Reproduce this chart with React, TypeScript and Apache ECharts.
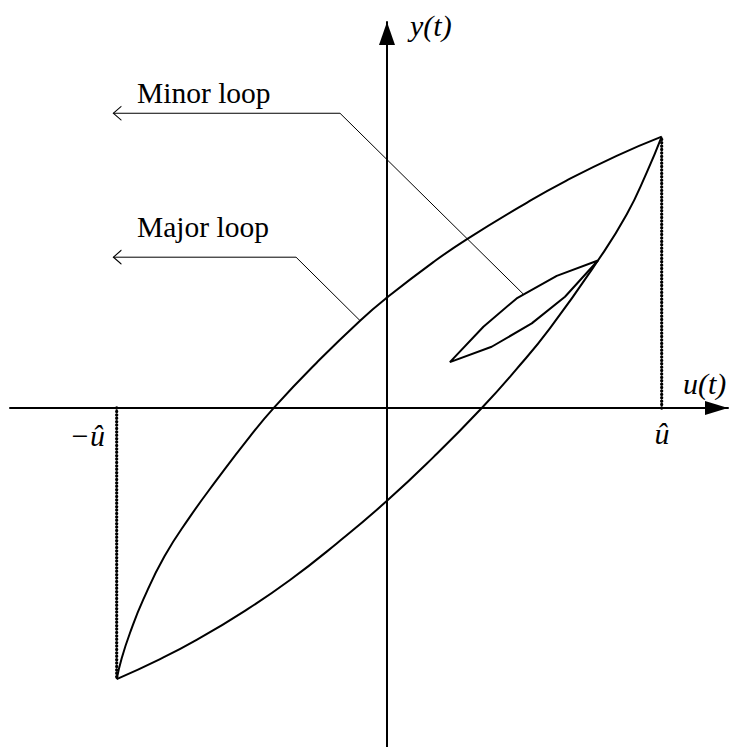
import React, { useEffect, useRef } from "react";
import * as echarts from "echarts";

// All values are in units of the input amplitude û (u = ±1 at the turning points).

// Upper (descending) branch of the major loop, left turning point to right turning point
const majorUpperBranch: [number, number][] = [
  [-0.984, -0.987],
  [-0.966, -0.912],
  [-0.936, -0.82],
  [-0.887, -0.697],
  [-0.81, -0.54],
  [-0.72, -0.4],
  [-0.62, -0.262],
  [-0.5, -0.105],
  [-0.408, 0.005],
  [-0.256, 0.165],
  [-0.098, 0.318],
  [0.0, 0.402],
  [0.17, 0.532],
  [0.29, 0.614],
  [0.51, 0.748],
  [0.65, 0.826],
  [0.836, 0.918],
  [1.0, 0.988],
];

// Lower (ascending) branch of the major loop
const majorLowerBranch: [number, number][] = [
  [-0.984, -0.987],
  [-0.826, -0.914],
  [-0.693, -0.844],
  [-0.523, -0.742],
  [-0.353, -0.626],
  [-0.183, -0.493],
  [0.0, -0.338],
  [0.17, -0.178],
  [0.345, 0.0],
  [0.47, 0.14],
  [0.593, 0.29],
  [0.768, 0.537],
  [0.873, 0.705],
  [0.945, 0.856],
  [1.0, 0.988],
];

// Minor loop, closed polygon starting at its reversal point on the major loop
const minorLoop: [number, number][] = [
  [0.768, 0.537],
  [0.618, 0.481],
  [0.472, 0.399],
  [0.351, 0.296],
  [0.229, 0.167],
  [0.381, 0.223],
  [0.527, 0.308],
  [0.648, 0.405],
  [0.768, 0.537],
];

// Turning points of the input and the reached outputs
const turningPoints: [number, number][] = [
  [1.0, 0.988],
  [-0.984, -0.987],
];

// Leader lines for the annotations (arrow end first)
const minorLeader: [number, number][] = [
  [-0.996, 1.073],
  [-0.171, 1.073],
  [0.496, 0.415],
];
const majorLeader: [number, number][] = [
  [-0.996, 0.549],
  [-0.331, 0.549],
  [-0.098, 0.318],
];

const annotationLabels = ["Minor loop", "Major loop"];
const axisNames = ["u(t)", "y(t)"];
const tickLabels = ["\u2212\u00fb", "\u00fb"];

// Visible axis extents (same scale on both axes)
const X_MIN = -1.3724;
const X_MAX = 1.2414;
const Y_MIN = -1.2341;
const Y_MAX = 1.4052;

const SERIF = "'Liberation Serif', 'Times New Roman', serif";
const ARROW_HEAD = "path://M8,0L0,7L8,14";

function curve(data: [number, number][], width: number, smooth: number | boolean) {
  return {
    type: "line",
    data,
    smooth,
    symbol: "none",
    silent: true,
    lineStyle: { color: "#000", width },
  };
}

// Beaded guides from the u-axis to each turning point
const beadedGuides = {
  type: "custom",
  silent: true,
  clip: false,
  data: turningPoints,
  renderItem: (_params: any, api: any) => {
    const u = api.value(0);
    const y = api.value(1);
    const p0 = api.coord([u, 0]);
    const p1 = api.coord([u, y]);
    return {
      type: "line",
      shape: { x1: p0[0], y1: p0[1], x2: p1[0], y2: p1[1] },
      style: {
        stroke: "#000",
        lineWidth: 3.3,
        lineDash: [0.1, 3.3],
        lineCap: "round",
        fill: null,
      },
    };
  },
};

function leader(points: [number, number][]) {
  return {
    type: "line",
    silent: true,
    symbol: ARROW_HEAD,
    symbolSize: [8, 14],
    symbolOffset: [4, 0],
    symbolKeepAspect: false,
    itemStyle: { color: "none", borderColor: "#000", borderWidth: 1 },
    lineStyle: { color: "#000", width: 1 },
    data: points.map((p, i) => (i === 0 ? { value: p } : { value: p, symbol: "none" })),
  };
}

function label(text: string, x: number, y: number, font: string, align = "left") {
  return {
    type: "text",
    x,
    y,
    style: { text, font, fill: "#000", textAlign: align, textVerticalAlign: "middle" },
  };
}

export default function App() {
  const ref = useRef<HTMLDivElement>(null);

  useEffect(() => {
    if (!ref.current) return;
    const chart = echarts.init(ref.current, undefined, { renderer: "svg" });

    const axisCommon = {
      type: "value",
      axisTick: { show: false },
      axisLabel: { show: false },
      splitLine: { show: false },
    };

    const plain = `29.5px ${SERIF}`;
    const math = `italic 30px ${SERIF}`;

    chart.setOption({
      animation: false,
      backgroundColor: "#fff",
      grid: {
        left: 10,
        right: 2,
        top: 22,
        bottom: 0,
        containLabel: false,
        outerBoundsMode: "none",
      },
      xAxis: {
        ...axisCommon,
        min: X_MIN,
        max: X_MAX,
        axisLine: {
          show: true,
          onZero: true,
          symbol: ["none", "triangle"],
          symbolSize: [14, 23],
          symbolOffset: [0, -11.5],
          lineStyle: { color: "#000", width: 2 },
        },
      },
      yAxis: {
        ...axisCommon,
        min: Y_MIN,
        max: Y_MAX,
        axisLine: {
          show: true,
          onZero: true,
          symbol: ["none", "triangle"],
          symbolSize: [16, 23],
          symbolOffset: [0, -11.5],
          lineStyle: { color: "#000", width: 2 },
        },
      },
      series: [
        curve(majorUpperBranch, 2, 0.5),
        curve(majorLowerBranch, 2, 0.5),
        curve(minorLoop, 2, false),
        beadedGuides,
        leader(minorLeader),
        leader(majorLeader),
      ],
      graphic: [
        label(annotationLabels[0], 137, 92.5, plain),
        label(annotationLabels[1], 137, 226.5, plain),
        label(axisNames[0], 683, 383, math),
        label(axisNames[1], 410, 25, math),
        label(tickLabels[0], 105, 435, math, "right"),
        label(tickLabels[1], 662, 433, math, "center"),
      ],
    });

    return () => chart.dispose();
  }, []);

  return (
    <div
      ref={ref}
      style={{ position: "fixed", left: 0, top: 0, width: 730, height: 747, background: "#fff" }}
    />
  );
}
